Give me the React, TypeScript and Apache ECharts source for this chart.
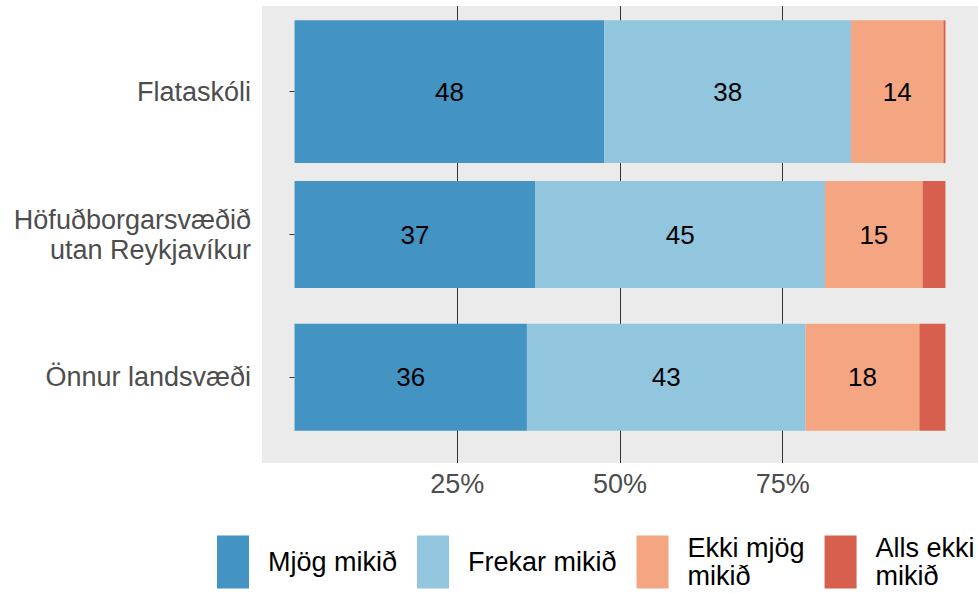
import React, { useEffect, useRef } from 'react';
import * as echarts from 'echarts';

const categories = ['Flataskóli', 'Höfuðborgarsvæðið\nutan Reykjavíkur', 'Önnur landsvæði'];
const levels = ['Mjög mikið', 'Frekar mikið', 'Ekki mjög\nmikið', 'Alls ekki\nmikið'];
const colors = ['#4393C3', '#92C5DE', '#F4A582', '#D6604D'];
const mjogMikid = [47.6, 37.0, 35.7];
const frekarMikid = [37.9, 44.5, 42.8];
const ekkiMjogMikid = [14.2, 15.0, 17.5];
const allsEkkiMikid = [0.3, 3.5, 4.0];
const barThickness = [1.0, 0.75, 0.75];
const xTicks = [25, 50, 75];
const yTicks = [0, 1, 2];

const FONT = '"Liberation Sans", Arial, Helvetica, sans-serif';

export default function App() {
  const ref = useRef<HTMLDivElement>(null);
  useEffect(() => {
    if (!ref.current) return;
    const chart = echarts.init(ref.current, null, { renderer: 'svg' });
    const seriesValues = [mjogMikid, frekarMikid, ekkiMjogMikid, allsEkkiMikid];
    const cum = categories.map(() => 0);
    const series: any[] = seriesValues.map((vals, si) => {
      const data = vals.map((v, ci) => {
        const start = cum[ci];
        cum[ci] += v;
        return [start, start + v, ci, barThickness[ci], v];
      });
      const color = colors[si];
      return {
        type: 'custom',
        name: levels[si],
        itemStyle: { color },
        clip: false,
        encode: { x: [0, 1], y: 2 },
        data,
        renderItem: (params: any, api: any) => {
          const s = api.value(0);
          const e = api.value(1);
          const c = api.value(2);
          const t = api.value(3);
          const v = api.value(4);
          const p0 = api.coord([s, c - t / 2]);
          const p1 = api.coord([e, c + t / 2]);
          const x = Math.min(p0[0], p1[0]);
          const y = Math.min(p0[1], p1[1]);
          const w = Math.abs(p1[0] - p0[0]);
          const h = Math.abs(p1[1] - p0[1]);
          const el: any = {
            type: 'rect',
            shape: { x, y, width: w, height: h },
            style: { fill: color },
          };
          if (v >= 5) {
            el.textContent = {
              style: {
                text: String(Math.round(v)),
                fill: '#000',
                fontSize: 26,
                fontFamily: FONT,
              },
            };
            el.textConfig = { position: 'inside' };
          }
          return el;
        },
      };
    });

    chart.setOption({
      animation: false,
      color: colors,
      textStyle: { fontFamily: FONT },
      grid: {
        left: 262,
        right: 0,
        top: 6,
        bottom: 130,
        show: true,
        backgroundColor: '#EBEBEB',
        borderWidth: 0,
        containLabel: false,
      },
      xAxis: {
        type: 'value',
        min: -5,
        max: 105,
        axisLine: { show: false },
        axisTick: { show: false, customValues: xTicks },
        axisLabel: {
          customValues: xTicks,
          formatter: (v: number) => v + '%',
          color: '#4D4D4D',
          fontSize: 27,
          fontFamily: FONT,
          margin: 7,
        },
        splitLine: { show: true, lineStyle: { color: '#333333', width: 1 } },
      },
      yAxis: {
        type: 'value',
        inverse: true,
        min: -0.6,
        max: 2.6,
        axisLine: { show: false },
        axisTick: { show: true, customValues: yTicks, length: 5, lineStyle: { color: '#333333' } },
        axisLabel: {
          customValues: yTicks,
          formatter: (v: number) => categories[Math.round(v)] ?? '',
          color: '#4D4D4D',
          fontSize: 27,
          lineHeight: 30,
          fontFamily: FONT,
          margin: 11,
        },
        splitLine: { show: false },
      },
      legend: {
        left: 217,
        top: 534,
        width: 761,
        padding: 0,
        itemWidth: 32,
        itemHeight: 53,
        itemGap: 20,
        icon: 'rect',
        textStyle: {
          fontSize: 27,
          color: '#000',
          lineHeight: 28,
          padding: [0, 0, 0, 14],
          fontFamily: FONT,
        },
        data: levels.map((n) => ({ name: n, icon: 'rect' })),
      },
      series,
    });
    return () => chart.dispose();
  }, []);
  return (
    <div
      ref={ref}
      style={{ position: 'fixed', left: 0, top: 0, width: 978, height: 593, background: '#fff' }}
    />
  );
}
